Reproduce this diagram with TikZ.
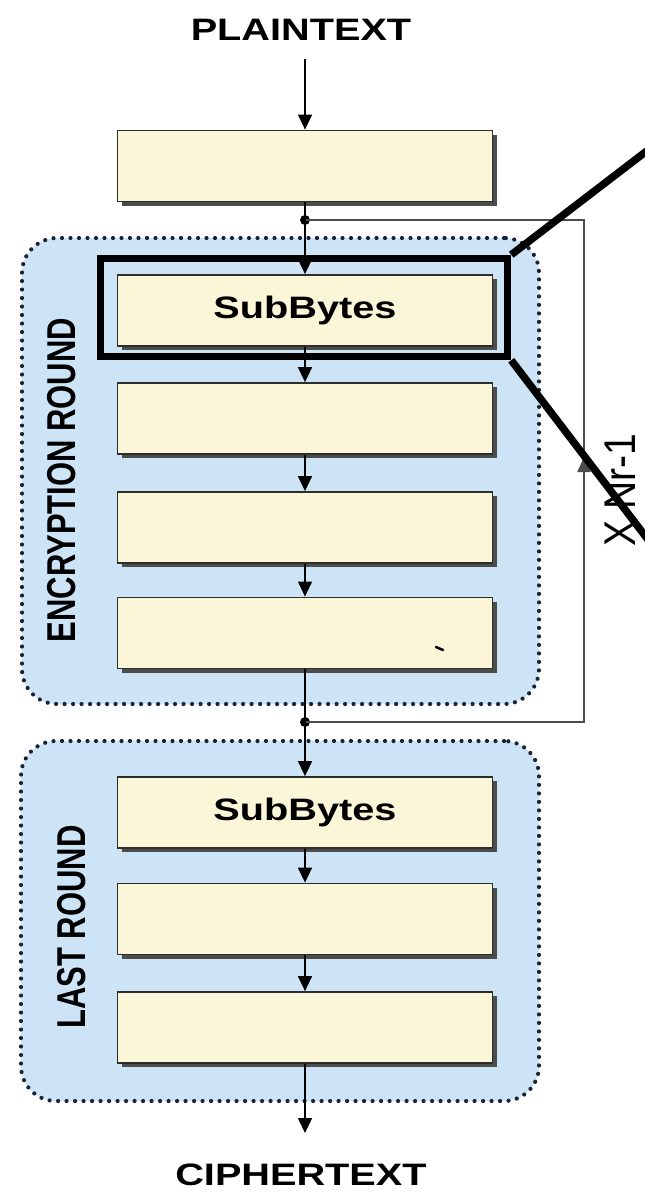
\documentclass[tikz,border=0pt]{standalone}
\usepackage{fontspec}
\setmainfont{Liberation Sans}
\usetikzlibrary{arrows.meta,shadows}
\definecolor{boxfill}{RGB}{250,246,215}
\definecolor{roundfill}{RGB}{205,228,247}
\definecolor{dotcol}{RGB}{25,35,55}
\definecolor{edgecol}{RGB}{45,45,45}
\tikzset{
  stagebox/.style={draw=edgecol, line width=1.8pt, fill=boxfill, minimum width=375pt, minimum height=71pt, inner sep=0pt,
    font=\fontsize{31}{31}\selectfont\bfseries,
    drop shadow={shadow xshift=4pt, shadow yshift=-4pt, fill=black!70, opacity=1}},
  roundbox/.style={draw=dotcol, fill=roundfill, line width=4.2pt, dash pattern=on 0pt off 8.5pt, line cap=round, rounded corners=35pt, inner sep=0pt},
  flow/.style={line width=1.6pt, -{Triangle[length=15pt,width=14pt]}},
  loopline/.style={draw=black!70, line width=2pt},
  junction/.style={circle, fill=black, inner sep=0pt, minimum size=10pt},
  title/.style={font=\fontsize{31}{31}\selectfont\bfseries, inner sep=0pt},
  rlabel/.style={font=\fontsize{31}{31}\selectfont\bfseries, rotate=90, inner sep=0pt},
  zoomline/.style={line width=7.5pt, draw=black, line join=miter},
}
\begin{document}
\begin{tikzpicture}[x=1pt,y=-1pt]
\useasboundingbox (0,0) rectangle (645,1194);
\fill[white] (0,0) rectangle (645,1194);
% rounds
\node[roundbox, minimum width=517pt, minimum height=466pt] (encr) at (280.5,471) {};
\node[roundbox, minimum width=518pt, minimum height=360pt] (lastr) at (280,921) {};
\node[rlabel] (enclabel) at (62,480) {\scalebox{1}[1.3]{ENCRYPTION ROUND}};
\node[rlabel] (lastlabel) at (72,927) {\scalebox{1}[1.3]{LAST ROUND}};
% titles
\node[title] (plain) at (301,30) {\scalebox{1.28}[1]{PLAINTEXT}};
\node[title] (cipher) at (301,1175) {\scalebox{1.28}[1]{CIPHERTEXT}};
\coordinate (pstart) at (305,59);
\coordinate (cend) at (305,1133);
% boxes
\node[stagebox] (b0) at (305,166) {};
\node[stagebox] (b1) at (305,310.5) {\scalebox{1.28}[1]{SubBytes}};
\node[stagebox] (b2) at (305,418.5) {};
\node[stagebox] (b3) at (305,527.5) {};
\node[stagebox] (b4) at (305,633) {};
\node[stagebox] (b5) at (305,812.5) {\scalebox{1.28}[1]{SubBytes}};
\node[stagebox] (b6) at (305,919) {};
\node[stagebox] (b7) at (305,1027.5) {};
\draw[line width=2.5pt, line cap=round] (436,647) -- (443,650);
% loop
\node[junction] (j1) at (305,220) {};
\node[junction] (j2) at (305,722) {};
\coordinate (lt) at (584,220);
\coordinate (lb) at (584,722);
\coordinate (lm) at (584,457);
\draw[loopline] (j2.center) -- (lb) -- (lt) -- (j1.center);
\draw[loopline, -{Triangle[length=15pt,width=13pt]}] (lb) -- (lm);
\node[rotate=90, inner sep=0pt, font=\fontsize{39}{39}\selectfont] (rep) at (620,490) {\scalebox{1}[1.14]{X Nr-1}};
% flow arrows
\draw[flow] (pstart) -- (b0.north);
\draw[flow] (b0.south) -- (b1.north);
\draw[flow] (b1.south) -- (b2.north);
\draw[flow] (b2.south) -- (b3.north);
\draw[flow] (b3.south) -- (b4.north);
\draw[flow] (b4.south) -- (b5.north);
\draw[flow] (b5.south) -- (b6.north);
\draw[flow] (b6.south) -- (b7.north);
\draw[flow] (b7.south) -- (cend);
% zoom marker
\node[zoomline, minimum width=407pt, minimum height=98pt, inner sep=0pt] (zoom) at (304,307.5) {};
\coordinate (zup) at (665,137);
\coordinate (zdn) at (665,562);
\draw[zoomline] (zoom.north east) -- (zup);
\draw[zoomline] (zoom.south east) -- (zdn);
\end{tikzpicture}
\end{document}
